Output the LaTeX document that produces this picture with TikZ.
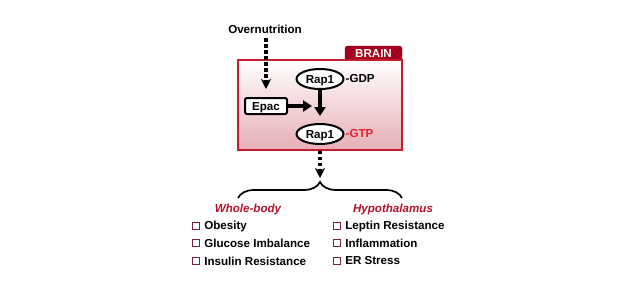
\documentclass[tikz,border=0pt]{standalone}
\usepackage{fontspec}
\setmainfont{Liberation Sans}
\usepackage{xcolor}
\definecolor{BrainRed}{HTML}{A3001F}
\definecolor{BoxRed}{HTML}{C41E2E}
\definecolor{BoxPink}{HTML}{E6AEB5}
\definecolor{HeadRed}{HTML}{B3122A}
\definecolor{GtpRed}{HTML}{E8202A}
\definecolor{ChkMaroon}{HTML}{7D1F40}
\usetikzlibrary{arrows.meta,positioning,shapes.geometric,decorations.pathreplacing}

\begin{document}
\begin{tikzpicture}[
  x=1pt, y=-1pt,
  font=\fontsize{11.6}{13}\selectfont\bfseries,
  rap/.style={draw, ellipse, line width=2pt, fill=white, inner sep=0pt,
              text height=8.3pt, text depth=0pt,
              minimum width=47pt, minimum height=20pt},
  arr/.style={-{Triangle[length=9pt,width=11pt]}, line width=3.6pt},
  dotarr/.style={-{Stealth[length=10pt,width=10pt,inset=3pt]}, line width=3.4pt,
                 dash pattern=on 3.3pt off 2.7pt},
  head/.style={text=HeadRed, font=\fontsize{11.6}{13}\selectfont\bfseries\itshape},
  chk/.style={draw=ChkMaroon, line width=1.2pt, fill=white, inner sep=0pt,
              minimum size=7pt},
  item/.style={right=4pt of #1, inner sep=0pt}
]
  \useasboundingbox (0,0) rectangle (640,290);

  % brain compartment
  \draw[fill=BrainRed, draw=BrainRed, rounded corners=2.5pt]
    (345,64) -- (345,46) -- (402,46) -- (402,64);
  \node[draw=BoxRed, line width=1.5pt, top color=white, bottom color=BoxPink,
        minimum width=164pt, minimum height=90pt, inner sep=0pt]
    (brain) at (320,105) {};
  \node[text=white, inner sep=0pt, text height=8.3pt, text depth=0pt]
    (tab) at (373.5,53) {BRAIN};

  \node[inner sep=0pt] (over) at (265,29) {Overnutrition};
  \node[rap] (gdp) at (320,79) {Rap1};
  \node[inner sep=0pt, right=1pt of gdp] (gdplbl) {-GDP};
  \node[rap] (gtp) at (320,134) {Rap1};
  \node[inner sep=0pt, right=1pt of gtp, text=GtpRed] (gtplbl) {-GTP};
  \node[draw, line width=2pt, rounded corners=2pt, fill=white,
        text height=8.3pt, text depth=0pt,
        minimum width=42pt, minimum height=16pt, inner sep=0pt]
    (epac) at (266,106) {Epac};

  \coordinate (epacend) at (312,106);
  \coordinate (gtpend) at (320,116);
  \draw[dotarr] ([yshift=-5pt]over.south -| epac.north) -- ([yshift=8pt]epac.north);
  \draw[arr] (epac) -- (epacend);
  \draw[arr] (gdp) -- (gtpend);
  \coordinate (fork) at (320,178);
  \draw[dotarr] (brain.south) -- (fork);

  % outcomes
  \draw[line width=1.7pt, decorate, decoration={brace, amplitude=16pt}]
    (238,198) -- (402,198);
  \node[head] (whole) at (248,209) {Whole-body};
  \node[head] (hypo) at (393,209) {Hypothalamus};

  \foreach \i/\x/\y/\txt in {1/196/226/Obesity, 2/196/243/Glucose Imbalance,
      3/196/261/Insulin Resistance, 4/337/226/Leptin Resistance,
      5/337/243/Inflammation, 6/337/261/ER Stress}{
    \node[chk] (c\i) at (\x,\y) {};
    \node[item=c\i] (t\i) {\txt};
  }
\end{tikzpicture}
\end{document}
